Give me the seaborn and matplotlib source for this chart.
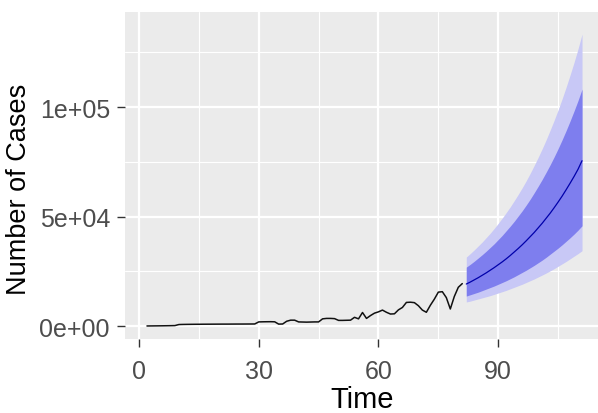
import numpy as np
import pandas as pd
import seaborn as sns
import matplotlib
matplotlib.use("Agg")
import matplotlib.pyplot as plt

# ---- data ----
hist_start = 2
hist_values = [50, 70, 90, 110, 130, 160, 190, 230,
               700, 750, 780, 800, 820, 830, 850, 860, 870, 880,
               890, 900, 900, 910, 920, 930, 930, 940, 950, 960,
               1900, 1950, 1980, 2000, 1950, 900, 950, 2200, 2700, 2700,
               1900, 1850, 1800, 1850, 1900, 1900, 3300, 3500, 3500, 3400,
               2600, 2600, 2650, 2700, 4000, 3300, 6200, 3500, 4800, 5900,
               6500, 7300, 6300, 5500, 5600, 7400, 8500, 10800, 10900, 10700,
               9300, 7300, 6300, 9500, 12300, 15500, 15700, 13000, 7800, 13500,
               17700, 19400]
fc_start = 82
fc_mean = [19200, 20100, 21100, 22100, 23200, 24300, 25500, 26700, 28000, 29300,
           30700, 32200, 33800, 35400, 37100, 38900, 40800, 42700, 44800, 46900,
           49200, 51500, 54000, 56600, 59300, 62200, 65200, 68300, 71600, 75500]
fc_hi95 = [31500, 33100, 34800, 36600, 38400, 40400, 42400, 44600, 46900, 49300,
           51800, 54400, 57200, 60100, 63100, 66300, 69700, 73300, 77000, 80900,
           85000, 89400, 93900, 98700, 103700, 109000, 114600, 120400, 126600, 133300]
fc_hi80 = [26900, 28200, 29600, 31100, 32600, 34200, 35900, 37600, 39500, 41400,
           43500, 45600, 47800, 50200, 52600, 55200, 57900, 60800, 63800, 66900,
           70200, 73600, 77200, 81000, 85000, 89200, 93600, 98200, 103000, 108200]
fc_lo80 = [13700, 14300, 14900, 15500, 16200, 16900, 17600, 18300, 19100, 19900,
           20700, 21600, 22500, 23500, 24500, 25500, 26600, 27700, 28900, 30100,
           31400, 32800, 34200, 35600, 37100, 38700, 40300, 42000, 43800, 45800]
fc_lo95 = [11000, 11400, 11900, 12400, 12900, 13400, 13900, 14500, 15100, 15700,
           16300, 17000, 17700, 18400, 19100, 19900, 20700, 21500, 22400, 23300,
           24200, 25200, 26200, 27300, 28400, 29500, 30700, 31900, 33100, 34400]

x_ticks = [0, 30, 60, 90]
x_tick_labels = ["0", "30", "60", "90"]
x_minor = [15, 45, 75, 105]
y_ticks = [0, 50000, 100000]
y_tick_labels = ["0e+00", "5e+04", "1e+05"]
y_minor = [25000, 75000, 125000]
x_label = "Time"
y_label = "Number of Cases"

hist = pd.DataFrame({"t": np.arange(hist_start, hist_start + len(hist_values)),
                     "cases": hist_values})
fc = pd.DataFrame({"t": np.arange(fc_start, fc_start + len(fc_mean)),
                   "mean": fc_mean, "lo95": fc_lo95, "hi95": fc_hi95,
                   "lo80": fc_lo80, "hi80": fc_hi80})

# ---- style ----
sns.set_theme(style="darkgrid")
plt.rcParams["font.family"] = ["Liberation Sans", "DejaVu Sans"]

W, H = 598, 414
fig = plt.figure(figsize=(W / 100, H / 100), dpi=100)
fig.patch.set_facecolor("white")
ax = fig.add_axes([125 / W, 1 - 340 / H, (W - 125) / W, (340 - 13) / H])
ax.set_facecolor("#EBEBEB")

ax.fill_between(fc["t"], fc["lo95"], fc["hi95"], color="#C8C8F6", linewidth=0, zorder=2)
ax.fill_between(fc["t"], fc["lo80"], fc["hi80"], color="#7E7EEE", linewidth=0, zorder=3)
sns.lineplot(data=hist, x="t", y="cases", ax=ax, color="#111111", linewidth=1.1, zorder=4)
sns.lineplot(data=fc, x="t", y="mean", ax=ax, color="#0000AA", linewidth=0.9, zorder=5)

ax.set_xlim(-3.5, 115.0)
ax.set_ylim(-5900, 143400)

ax.set_xticks(x_ticks)
ax.set_xticklabels(x_tick_labels)
ax.set_xticks(x_minor, minor=True)
ax.set_yticks(y_ticks)
ax.set_yticklabels(y_tick_labels)
ax.set_yticks(y_minor, minor=True)

ax.grid(which="major", color="white", linewidth=1.6)
ax.grid(which="minor", color="white", linewidth=0.8)
ax.set_axisbelow(True)
for s in ax.spines.values():
    s.set_visible(False)

ax.tick_params(which="major", length=5.5, width=1.0, color="#333333",
               labelcolor="#4D4D4D", labelsize=18,
               bottom=True, left=True)
ax.tick_params(axis="x", which="major", pad=9)
ax.tick_params(axis="y", which="major", pad=5.3)
ax.tick_params(which="minor", length=0)

ax.set_xlabel(x_label, fontsize=21, color="black")
ax.set_ylabel(y_label, fontsize=19.5, color="black")
ax.xaxis.set_label_coords(362.5 / W, 1 - 386 / H, transform=fig.transFigure)
ax.yaxis.set_label_coords(32.4 / W, 1 - 189 / H, transform=fig.transFigure)

fig.savefig("out.png", dpi=100)
